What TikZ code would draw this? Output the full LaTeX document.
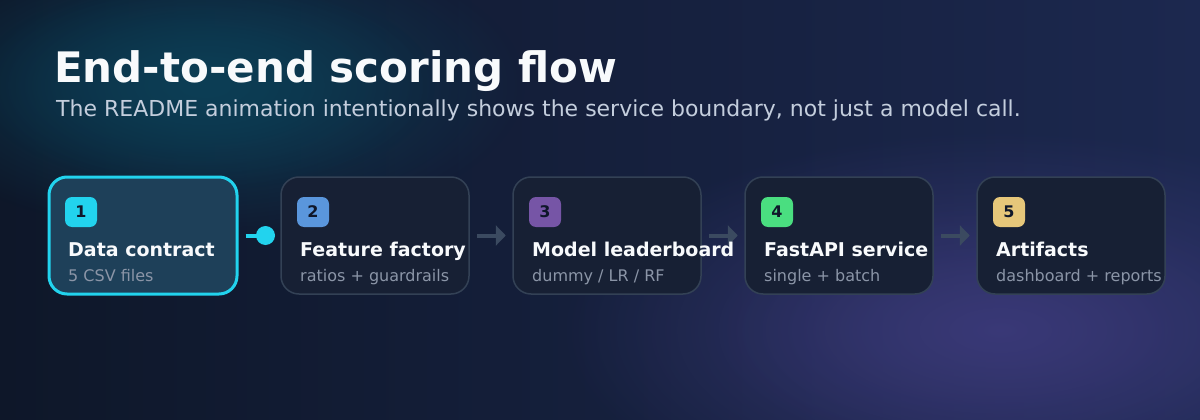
\documentclass[tikz,border=0pt]{standalone}
\usepackage{fontspec}
\setmainfont{DejaVu Sans}
\usetikzlibrary{arrows.meta,fadings,positioning}
\tikzfading[name=glowfade, inner color=transparent!0, outer color=transparent!100]
\definecolor{bgA}{HTML}{0E1729}
\definecolor{bgB}{HTML}{1C284F}
\definecolor{glowT}{HTML}{0C3E55}
\definecolor{glowP}{HTML}{3D3B7C}
\definecolor{boxfill}{HTML}{172034}
\definecolor{boxline}{HTML}{334155}
\definecolor{activefill}{HTML}{1E4059}
\definecolor{cyanc}{HTML}{22D3EE}
\definecolor{bdgB}{HTML}{5A96DC}
\definecolor{bdgC}{HTML}{7655A6}
\definecolor{bdgD}{HTML}{4ADE80}
\definecolor{bdgE}{HTML}{E6C77A}
\definecolor{darktxt}{HTML}{0F172A}
\definecolor{titletxt}{HTML}{F8FAFC}
\definecolor{subtxt}{HTML}{C4CEDD}
\definecolor{mutetxt}{HTML}{8B95A7}
\definecolor{arrowc}{HTML}{3B4A60}
\begin{document}
\begin{tikzpicture}[x=1pt,y=-1pt,
  stagebox/.style={draw=boxline, line width=1.5pt, fill=boxfill, rounded corners=18pt,
    minimum width=188pt, minimum height=117pt, inner sep=0pt},
  activebox/.style={stagebox, draw=cyanc, line width=3pt, fill=activefill},
  badge/.style={rounded corners=7pt, minimum width=32pt, minimum height=30pt, inner sep=0pt,
    text=darktxt, font=\fontsize{16}{18}\selectfont\bfseries},
  stagetitle/.style={anchor=base west, inner sep=0pt, text=titletxt, font=\fontsize{19}{22}\selectfont\bfseries},
  stagesub/.style={anchor=base west, inner sep=0pt, text=mutetxt, font=\fontsize{16}{19}\selectfont},
  flowarrow/.style={draw=arrowc, line width=4pt, -{Triangle[length=10pt,width=20pt]}},
]
\useasboundingbox (0,0) rectangle (1200,420);
% background
\shade[shading angle=60, left color=bgA, right color=bgB] (0,0) rectangle (1200,420);
\fill[glowT, path fading=glowfade, fill opacity=1] (205,85) ellipse [x radius=320, y radius=150];
\fill[glowT, path fading=glowfade, fill opacity=0.8] (205,85) ellipse [x radius=230, y radius=105];
\fill[glowP, path fading=glowfade, fill opacity=0.85] (1000,330) ellipse [x radius=440, y radius=200];
\fill[glowP, path fading=glowfade, fill opacity=0.4] (1000,330) ellipse [x radius=300, y radius=130];
% heading
\node[anchor=base west, inner sep=0pt, text=titletxt, font=\fontsize{42}{48}\selectfont\bfseries] (title) at (54,82) {End-to-end scoring flow};
\node[anchor=base west, inner sep=0pt, text=subtxt, font=\fontsize{22}{26}\selectfont] (subtitle) at (56,117) {The README animation intentionally shows the service boundary, not just a model call.};
% boxes
\node[activebox] (b1) at (143,235.5) {};
\node[stagebox] (b2) at (375,235.5) {};
\node[stagebox] (b3) at (607,235.5) {};
\node[stagebox] (b4) at (839,235.5) {};
\node[stagebox] (b5) at (1071,235.5) {};
% badges
\node[badge, fill=cyanc] (n1) at (81,212) {1};
\node[badge, fill=bdgB] (n2) at (313,212) {2};
\node[badge, fill=bdgC] (n3) at (545,212) {3};
\node[badge, fill=bdgD] (n4) at (777,212) {4};
\node[badge, fill=bdgE] (n5) at (1009,212) {5};
% connectors
\coordinate (dot) at ([xshift=27pt]b1.east);
\draw[cyanc, line width=4pt] ([xshift=7pt]b1.east) -- (dot);
\fill[cyanc] (dot) circle (9.5pt);
\draw[flowarrow] ([xshift=7pt]b2.east) -- ([xshift=36pt]b2.east);
\draw[flowarrow] ([xshift=7pt]b3.east) -- ([xshift=36pt]b3.east);
\draw[flowarrow] ([xshift=7pt]b4.east) -- ([xshift=36pt]b4.east);
% texts
\node[stagetitle] (t1) at (68,256) {Data contract};
\node[stagesub] (s1) at (68,281) {5 CSV files};
\node[stagetitle] (t2) at (300,256) {Feature factory};
\node[stagesub] (s2) at (300,281) {ratios + guardrails};
\node[stagetitle] (t3) at (532,256) {Model leaderboard};
\node[stagesub] (s3) at (532,281) {dummy / LR / RF};
\node[stagetitle] (t4) at (764,256) {FastAPI service};
\node[stagesub] (s4) at (764,281) {single + batch};
\node[stagetitle] (t5) at (996,256) {Artifacts};
\node[stagesub] (s5) at (996,281) {dashboard + reports};
\end{tikzpicture}
\end{document}
